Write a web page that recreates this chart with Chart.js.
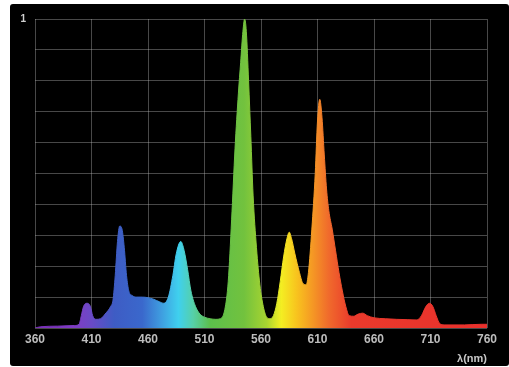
<!DOCTYPE html>
<html>
<head>
<meta charset="utf-8">
<script src="https://cdn.jsdelivr.net/npm/chart.js@4.4.1/dist/chart.umd.min.js"></script>
<style>
  html, body { margin: 0; padding: 0; background: #ffffff; width: 509px; height: 367px; overflow: hidden; }
  #panel { position: absolute; left: 10px; top: 4px; width: 499px; height: 362px; background: #000000; border-radius: 3px; }
  #c { display: block; }
</style>
</head>
<body>
<div id="panel"><canvas id="c" width="499" height="362"></canvas></div>
<script>
// Wavelength (nm) and relative intensity
const wavelengths = [360,365,380,395,399,401,403,406,409,411,414,418,422,427,429,431,433,435,437,439,441,443,446,450,455,460,465,470,474,478,482,485,489,492,495,498,502,506,510,515,520,524,528,531,534,537,540,542,544,545.5,547,549,551,553,556,559,562,565,568,571,574,577,580,583,585,587,590,594,597,600,602,605,608,610,612,614,616,618,620,623,626,629,632,635,638,642,646,650,654,660,670,680,690,698,702,706,709,712,715,718,722,740,755,760];
const intensity   = [0,0.004,0.006,0.008,0.012,0.04,0.07,0.08,0.07,0.04,0.028,0.03,0.045,0.07,0.09,0.17,0.28,0.33,0.32,0.26,0.17,0.12,0.105,0.1,0.1,0.098,0.093,0.085,0.08,0.1,0.17,0.24,0.28,0.25,0.19,0.12,0.07,0.045,0.035,0.03,0.028,0.03,0.06,0.15,0.35,0.58,0.76,0.86,0.96,1.0,0.96,0.8,0.62,0.43,0.26,0.14,0.07,0.035,0.03,0.04,0.08,0.15,0.23,0.29,0.31,0.29,0.24,0.18,0.145,0.14,0.18,0.32,0.5,0.67,0.74,0.68,0.56,0.45,0.38,0.32,0.25,0.18,0.12,0.07,0.04,0.038,0.045,0.048,0.04,0.033,0.03,0.028,0.027,0.026,0.04,0.07,0.08,0.07,0.04,0.015,0.01,0.01,0.012,0.012];
const xTickValues = [360,410,460,510,560,610,660,710,760];
const yTopLabel = '1';
const xTitle = 'λ(nm)';

// spectral colour stops (wavelength -> colour)
const stopNm  = [360, 395, 410, 430, 455, 472, 487, 500, 515, 545, 565, 578, 592, 605, 620, 640, 760];
const stopCol = ['#7a2fb8','#7f3cc4','#6a4ac6','#3e5cc4','#3a68cc','#3f9ee0','#3fd0ee','#56d0a8','#5cbf4c','#72c23e','#a8d430','#f4ee22','#f8c21e','#f59a24','#f06a2c','#ea3a2c','#e8302c'];

const points = wavelengths.map((w, i) => ({ x: w, y: intensity[i] }));

function spectrumFill(context) {
  const chart = context.chart;
  const area = chart.chartArea;
  if (!area) return '#60c040';
  const xs = chart.scales.x;
  const x0 = xs.getPixelForValue(360), x1 = xs.getPixelForValue(760);
  const g = chart.ctx.createLinearGradient(x0, 0, x1, 0);
  stopNm.forEach((nm, i) => g.addColorStop((nm - 360) / 400, stopCol[i]));
  return g;
}

new Chart(document.getElementById('c'), {
  type: 'line',
  data: {
    datasets: [{
      data: points,
      fill: 'origin',
      backgroundColor: spectrumFill,
      borderColor: spectrumFill,
      borderWidth: 1,
      pointRadius: 0,
      cubicInterpolationMode: 'monotone'
    }]
  },
  options: {
    responsive: false,
    animation: false,
    layout: { padding: { left: 0, right: 22, top: 14, bottom: 0 } },
    plugins: { legend: { display: false }, tooltip: { enabled: false } },
    scales: {
      x: {
        type: 'linear', min: 360, max: 760,
        afterBuildTicks: (s) => { s.ticks = xTickValues.map(v => ({ value: v })); },
        afterFit: (s) => { s.height = 38; },
        grid: { color: 'rgba(190,190,190,0.38)', lineWidth: 1, drawTicks: false },
        border: { display: false },
        ticks: { color: '#bdbdbd', font: { family: 'Liberation Sans, Arial, sans-serif', size: 12, weight: 'bold' }, padding: 4, maxRotation: 0, autoSkip: false },
        title: { display: true, text: xTitle, align: 'end', color: '#c8c8c8', font: { family: 'Liberation Sans, Arial, sans-serif', size: 11, weight: 'bold' }, padding: { top: 2, bottom: 0 } }
      },
      y: {
        min: 0, max: 1,
        ticks: { stepSize: 0.1, color: '#d0d0d0', padding: 9, font: { family: 'Liberation Sans, Arial, sans-serif', size: 10, weight: 'bold' },
                 callback: (v) => (Math.abs(v - 1) < 1e-9 ? yTopLabel : '') },
        afterFit: (s) => { s.width = 25; },
        grid: { color: 'rgba(190,190,190,0.38)', lineWidth: 1, drawTicks: false },
        border: { display: false }
      }
    }
  }
});
</script>
</body>
</html>
